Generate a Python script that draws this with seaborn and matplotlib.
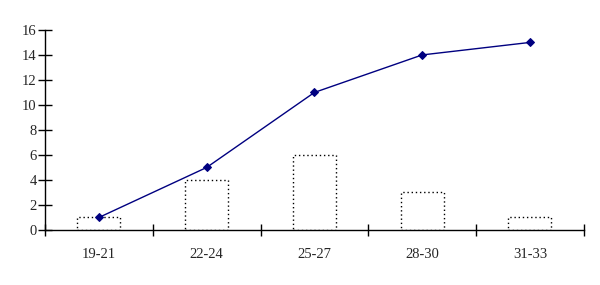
import matplotlib
matplotlib.use("Agg")
import matplotlib.pyplot as plt
import seaborn as sns
import numpy as np

categories = ["19-21", "22-24", "25-27", "28-30", "31-33"]
frequency = [1, 4, 6, 3, 1]
cumulative = [1, 5, 11, 14, 15]
y_ticks = [0, 2, 4, 6, 8, 10, 12, 14, 16]

sns.set_style("white")
plt.rcParams['font.family'] = ['Liberation Serif', 'DejaVu Serif']

fig = plt.figure(figsize=(6, 2.85), dpi=100)
ax = fig.add_axes([0.075, 0.193, 0.898, 0.702])

sns.barplot(x=categories, y=frequency, ax=ax, color="white", width=0.4,
            edgecolor="black", linewidth=1, linestyle=(0, (1, 2)), zorder=1)
sns.pointplot(x=categories, y=cumulative, ax=ax, color="#000080",
              markers="D", markersize=4.5, linewidth=1, zorder=3)

ax.set_xlim(-0.5, 4.5)
ax.set_ylim(0, 16)
ax.set_yticks(y_ticks)
ax.set_yticklabels([str(v) for v in y_ticks], fontsize=10.5)
ax.set_xticks(range(len(categories)))
ax.set_xticklabels(categories, fontsize=10.5)
ax.set_xticks(np.arange(-0.5, 5.0, 1.0), minor=True)
ax.tick_params(axis="x", which="major", bottom=True, length=0, pad=13)
ax.tick_params(axis="x", which="minor", bottom=True, direction="inout", length=9, width=1, color="black")
ax.tick_params(axis="y", which="major", left=True, direction="inout", length=10, width=1, color="black", pad=1)
ax.set_xlabel("")
ax.set_ylabel("")
for s in ["top", "right"]:
    ax.spines[s].set_visible(False)
for s in ["left", "bottom"]:
    ax.spines[s].set_color("black")
    ax.spines[s].set_linewidth(1)
ax.grid(False)

fig.savefig("out.png", dpi=100)
